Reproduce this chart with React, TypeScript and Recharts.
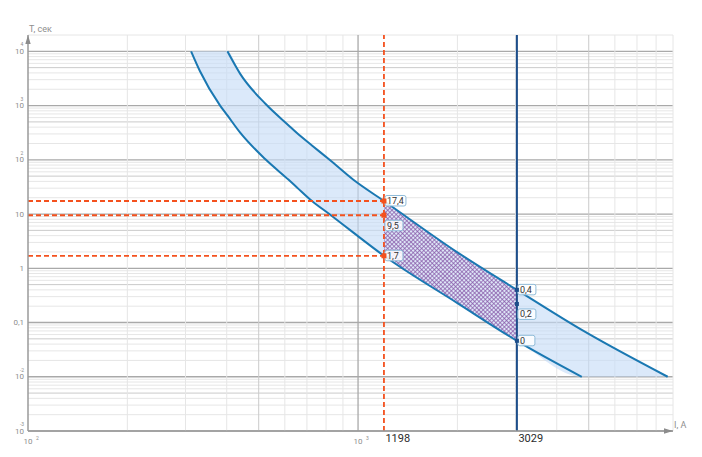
import {
  ComposedChart, Area, Line, Scatter, XAxis, YAxis, ReferenceLine,
} from 'recharts'

// Ток, А (общая сетка отсчётов для обеих кривых)
const currents = [312, 332, 382, 402, 440, 525, 615, 653, 725, 820, 968, 1198, 2000, 3029, 4763, 8670]
// Верхняя (максимальная) время-токовая характеристика, с
const upperT = [null, null, null, 10000, 3800, 1067, 435, 311, 184, 100, 42.8, 17.4, 1.97, 0.4, 0.073, 0.01]
// Нижняя (минимальная) характеристика, с
const lowerT = [10000, 4300, 1000, 658, 313, 101, 43.2, 31, 17.4, 9.9, 4.54, 1.7, 0.228, 0.046, 0.01, null]

const BAND_TOP = 10000
const BAND_BOTTOM = 0.01

const SET_I = 1198
const BREAK_I = 3029

const leftTimes = [17.4, 9.5, 1.7]
const leftLabels = ['17,4', '9,5', '1,7']
const rightTimes = [0.4, 0.22, 0.046]
const rightLabels = ['0,4', '0,2', '0']

const xTicks = [100, 1000, SET_I, BREAK_I]
const yTicks = [0.001, 0.01, 0.1, 1, 10, 100, 1000, 10000]
const yTickBase = ['10', '10', '0,1', '1', '10', '10', '10', '10']
const yTickSup = ['-3', '-2', '', '', '', '2', '3', '4']

const gridDecadesY = [0.001, 0.01, 0.1, 1, 10, 100, 1000]
const gridDecadesX = [100, 1000]
const mantissas = [1, 2, 3, 4, 5, 6, 7, 8, 9]

const CURVE = '#1a78b2'
const ORANGE = '#f4511e'
const NAVY = '#1d4e8a'
const GRAY_TXT = '#8e8e8e'
const FONT = 'Roboto, "Open Sans", sans-serif'

function gridStyle(m: number) {
  if (m === 1) return { stroke: '#a9a9a9', strokeWidth: 1.3 }
  if (m === 5) return { stroke: '#cacaca', strokeWidth: 1 }
  return { stroke: '#e6e6e6', strokeWidth: 1 }
}

function YTick({ x, y, index }: any) {
  const sup = yTickSup[index]
  return (
    <g fontFamily={FONT} fill={GRAY_TXT}>
      <text x={x} y={y + 2.5} fontSize={8} textAnchor="end">{yTickBase[index]}</text>
      {sup && <text x={x - 2} y={y - 5} fontSize={5} textAnchor="middle">{sup}</text>}
    </g>
  )
}

function XTick({ x, y, payload }: any) {
  const v = payload.value
  if (v === 100 || v === 1000) {
    return (
      <g fontFamily={FONT} fill={GRAY_TXT}>
        <text x={x - 4.5} y={y + 13} fontSize={8}>10</text>
        <text x={x + 8} y={y + 9} fontSize={5}>{v === 100 ? '2' : '3'}</text>
      </g>
    )
  }
  return (
    <text x={x + 1.5} y={y + 11} fontSize={11} fontFamily={FONT} fill="#2b2b2b">{v}</text>
  )
}

function markShape(color: string, size: number) {
  return (props: any) => {
    const { cx, cy, payload, index } = props
    const text: string = payload.label
    const w = Math.max(17, text.length * 3 + 9)
    const top = index === 1 ? cy + 5 : cy - 5.5
    return (
      <g>
        <rect x={cx + 1} y={top} width={w} height={10.5} rx={2}
          fill="#ffffff" fillOpacity={0.85} stroke="#8fbcd9" strokeWidth={1} />
        <text x={cx + 3} y={top + 8.5} fontSize={9} fontFamily={FONT} fill="#333">{text}</text>
        <rect x={cx - size / 2} y={cy - size / 2} width={size} height={size} fill={color} />
      </g>
    )
  }
}

export default function App() {
  const rows = currents.map((I, i) => ({
    I,
    upper: upperT[i],
    lower: lowerT[i],
    band: [lowerT[i] ?? BAND_BOTTOM, upperT[i] ?? BAND_TOP],
  }))
  const hatchRows = rows
    .filter((r) => r.I >= SET_I && r.I <= BREAK_I)
    .map((r) => ({ I: r.I, hatch: [r.lower, r.upper] }))

  const leftMarks = leftTimes.map((t, i) => ({ I: SET_I, t, label: leftLabels[i] }))
  const rightMarks = rightTimes.map((t, i) => ({ I: BREAK_I, t, label: rightLabels[i] }))

  const hGrid = gridDecadesY.flatMap((d) => mantissas.map((m) => ({ v: m * d, m })))
    .concat([{ v: 10000, m: 1 }, { v: 20000, m: 2 }])
  const vGrid = gridDecadesX.flatMap((d) => mantissas.map((m) => ({ v: m * d, m })))
    .filter((g) => g.v !== 100)

  return (
    <ComposedChart width={686} height={441} data={rows}
      margin={{ top: 27, right: 21, bottom: 0, left: 0 }}>
      <defs>
        <pattern id="hatch" width="3" height="3" patternUnits="userSpaceOnUse" patternTransform="rotate(45)">
          <rect width="3" height="3" fill="#dde6f7" />
          <path d="M0,0.4 H3 M0.4,0 V3" stroke="#8555a6" strokeWidth={0.8} />
        </pattern>
        <marker id="axArrow" viewBox="0 0 10 10" refX="10" refY="5" markerWidth="9" markerHeight="9"
          markerUnits="userSpaceOnUse" orient="auto-start-reverse">
          <path d="M0,2 L10,5 L0,8 z" fill="#8c8c8c" />
        </marker>
      </defs>

      <XAxis dataKey="I" type="number" scale="log" domain={[100, 9000]} allowDataOverflow
        ticks={xTicks} interval={0} tickLine={false} tickSize={0} tickMargin={0} height={18}
        tick={<XTick />}
        axisLine={{ stroke: '#9a9a9a', strokeWidth: 1.5, markerEnd: 'url(#axArrow)' }} />
      <YAxis type="number" scale="log" domain={[0.001, 20000]} allowDataOverflow
        ticks={yTicks} interval={0} tickLine={false} tickSize={0} tickMargin={4} width={20}
        tick={<YTick />}
        axisLine={{ stroke: '#9a9a9a', strokeWidth: 1.5, markerStart: 'url(#axArrow)' }} />

      {hGrid.map((g) => (
        <ReferenceLine key={'h' + g.v} y={g.v} {...gridStyle(g.m)} zIndex={-50} />
      ))}
      {vGrid.map((g) => (
        <ReferenceLine key={'v' + g.v} x={g.v} {...gridStyle(g.m)} zIndex={-50} />
      ))}

      <Area type="monotone" dataKey="band" stroke="none" fill="#c5dbf7" fillOpacity={0.62}
        isAnimationActive={false} />
      <Area type="monotone" data={hatchRows} dataKey="hatch" stroke="none" fill="url(#hatch)"
        fillOpacity={1} isAnimationActive={false} />
      <Line type="monotone" dataKey="upper" stroke={CURVE} strokeWidth={2} dot={false}
        isAnimationActive={false} />
      <Line type="monotone" dataKey="lower" stroke={CURVE} strokeWidth={2} dot={false}
        isAnimationActive={false} />

      {leftTimes.map((t) => (
        <ReferenceLine key={'o' + t} segment={[{ x: 100, y: t }, { x: SET_I, y: t }]}
          stroke={ORANGE} strokeWidth={1.8} strokeDasharray="5 3" />
      ))}
      <ReferenceLine x={SET_I} stroke={ORANGE} strokeWidth={1.8} strokeDasharray="5 3" />
      <ReferenceLine x={BREAK_I} stroke={NAVY} strokeWidth={2} />

      <Scatter data={leftMarks} dataKey="t" shape={markShape(ORANGE, 5)} isAnimationActive={false} />
      <Scatter data={rightMarks} dataKey="t" shape={markShape(NAVY, 4)} isAnimationActive={false} />

      <text x={21} y={24} fontSize={9} fontFamily={FONT} fill={GRAY_TXT}>T, сек</text>
      <text x={666} y={420} fontSize={9} fontFamily={FONT} fill={GRAY_TXT}>I, A</text>
    </ComposedChart>
  )
}
